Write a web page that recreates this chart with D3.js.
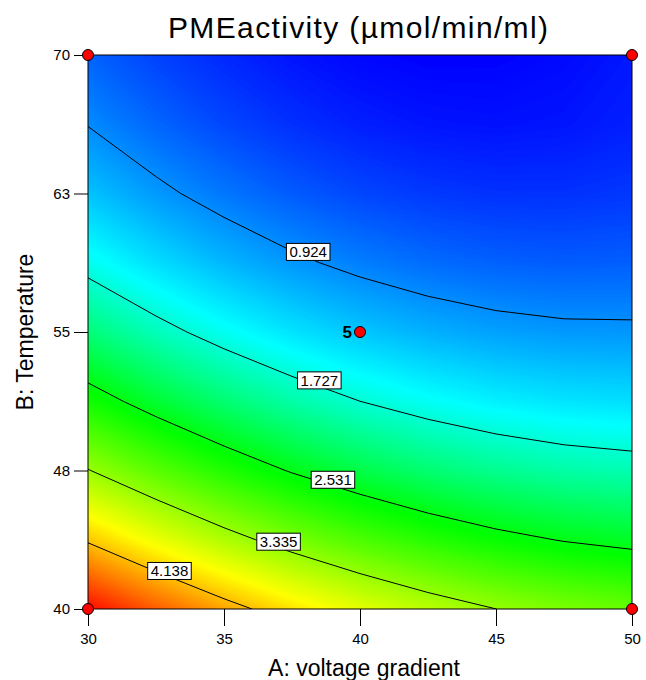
<!DOCTYPE html>
<html>
<head>
<meta charset="utf-8">
<script src="https://cdn.jsdelivr.net/npm/d3@7"></script>
<style>
body { margin: 0; background: #fff; }
text { font-family: "Liberation Sans", Arial, sans-serif; }
</style>
</head>
<body>
<svg width="646" height="680"></svg>
<script>
// values: columns = A (voltage gradient), rows = B (temperature, top to bottom)
var voltage = [30, 32.5, 35, 37.5, 40, 42.5, 45, 47.5, 50];
var temperature = [70, 66.25, 62.5, 58.75, 55, 51.25, 47.5, 43.75, 40];
var activity = [
    [0.693, 0.508, 0.361, 0.252, 0.180, 0.147, 0.151, 0.193, 0.273],
    [0.914, 0.707, 0.537, 0.406, 0.312, 0.257, 0.238, 0.259, 0.316],
    [1.223, 0.994, 0.802, 0.649, 0.533, 0.455, 0.415, 0.413, 0.448],
    [1.621, 1.370, 1.156, 0.980, 0.842, 0.742, 0.680, 0.655, 0.669],
    [2.108, 1.834, 1.598, 1.400, 1.240, 1.118, 1.033, 0.987, 0.978],
    [2.684, 2.388, 2.130, 1.910, 1.727, 1.583, 1.476, 1.407, 1.376],
    [3.348, 3.030, 2.750, 2.507, 2.303, 2.136, 2.007, 1.916, 1.863],
    [4.101, 3.761, 3.458, 3.194, 2.967, 2.778, 2.627, 2.514, 2.439],
    [4.943, 4.581, 4.256, 3.969, 3.720, 3.509, 3.336, 3.201, 3.103]
];
var levels = [0.924, 1.727, 2.531, 3.335, 4.138];
var labelAt = [38.1, 38.5, 39.0, 37.0, 33.0];
var xTicks = [30, 35, 40, 45, 50];
var yTicks = [40, 47.5, 55, 62.5, 70];
var yTickLabels = ["40", "48", "55", "63", "70"];
var designA = [30, 50, 30, 50, 40];
var designB = [40, 40, 70, 70, 55];
var designReps = [1, 1, 1, 1, 5];

var svg = d3.select("svg"),
    margin = {top: 55, right: 14, bottom: 71, left: 88},
    width = +svg.attr("width") - margin.left - margin.right,
    height = +svg.attr("height") - margin.top - margin.bottom;

var x = d3.scaleLinear().domain([30, 50]).range([margin.left, margin.left + width]);
var y = d3.scaleLinear().domain([40, 70]).range([margin.top + height, margin.top]);

var nx = voltage.length, ny = temperature.length;
var values = [].concat.apply([], activity);
var ext = d3.extent(values);
// blue - cyan - green - yellow - red ramp as it sits on the picture
var color = d3.scaleLinear()
    .domain([0.15, 1.55, 2.6, 3.85, 5.0])
    .range(["#0000ff", "#00ffff", "#00ff00", "#ffff00", "#ff0000"])
    .clamp(true);

// grid coordinate -> pixel (d3.contours puts value i at i + 0.5)
var dA = voltage[1] - voltage[0], dB = temperature[0] - temperature[1];
var path = d3.geoPath(d3.geoTransform({
    point: function(cx, cy) {
        this.stream.point(x(voltage[0] + dA * (cx - 0.5)), y(temperature[0] - dB * (cy - 0.5)));
    }
}));

svg.append("clipPath").attr("id", "plot")
    .append("rect")
    .attr("x", margin.left).attr("y", margin.top)
    .attr("width", width).attr("height", height);

var g = svg.append("g").attr("clip-path", "url(#plot)");

g.append("rect")
    .attr("x", margin.left).attr("y", margin.top)
    .attr("width", width).attr("height", height)
    .attr("fill", color(ext[0]));

var step = 0.02;
var bands = d3.range(ext[0] + step, ext[1], step);
g.selectAll(".band")
    .data(d3.contours().size([nx, ny]).thresholds(bands)(values))
    .enter().append("path")
    .attr("class", "band")
    .attr("d", path)
    .attr("fill", function(d) { return color(d.value + step / 2); })
    .attr("stroke", function(d) { return color(d.value + step / 2); })
    .attr("stroke-width", 0.6);

var lines = g.selectAll(".level")
    .data(d3.contours().size([nx, ny]).thresholds(levels)(values))
    .enter().append("path")
    .attr("class", "level")
    .attr("d", path)
    .attr("fill", "none")
    .attr("stroke", "#000")
    .attr("stroke-width", 1);

// labels sit just above the drawn line at the chosen A value
lines.each(function(d, i) {
    var node = this, len = node.getTotalLength(), tx = x(labelAt[i]), best = null;
    for (var s = 0; s <= len; s += 0.5) {
        var p = node.getPointAtLength(s);
        if (p.y < margin.top + 2 || p.y > margin.top + height - 2) continue;
        if (best == null || Math.abs(p.x - tx) < Math.abs(best.x - tx)) best = p;
    }
    var lab = svg.append("g").attr("transform", "translate(" + best.x + "," + (best.y - 6) + ")");
    var t = lab.append("text")
        .attr("text-anchor", "middle")
        .attr("dy", "0.36em")
        .attr("font-size", 15)
        .text(d3.format(".3f")(d.value));
    var w = t.node().getComputedTextLength() + 6;
    lab.insert("rect", "text")
        .attr("x", -w / 2).attr("y", -8.5)
        .attr("width", w).attr("height", 17)
        .attr("fill", "#fff").attr("stroke", "#000").attr("stroke-width", 1);
});

svg.append("rect")
    .attr("x", margin.left).attr("y", margin.top)
    .attr("width", width).attr("height", height)
    .attr("fill", "none").attr("stroke", "#000").attr("stroke-width", 1);

svg.append("g")
    .attr("transform", "translate(0," + (margin.top + height) + ")")
    .call(d3.axisBottom(x).tickValues(xTicks).tickSize(17).tickPadding(7))
    .call(function(a) { a.select(".domain").remove(); })
    .selectAll("text").attr("font-size", 15).attr("font-family", null).attr("fill", "#000");

svg.append("g")
    .attr("transform", "translate(" + margin.left + ",0)")
    .call(d3.axisLeft(y).tickValues(yTicks).tickSize(14).tickPadding(4)
        .tickFormat(function(d, i) { return yTickLabels[i]; }))
    .call(function(a) { a.select(".domain").remove(); })
    .selectAll("text").attr("font-size", 15).attr("font-family", null).attr("fill", "#000");

svg.selectAll(".design")
    .data(designA)
    .enter().append("circle")
    .attr("class", "design")
    .attr("cx", function(d) { return x(d); })
    .attr("cy", function(d, i) { return y(designB[i]); })
    .attr("r", 5.5)
    .attr("fill", "#ff0000").attr("stroke", "#000").attr("stroke-width", 1);

svg.selectAll(".reps")
    .data(designA.filter(function(d, i) { return designReps[i] > 1; }))
    .enter().append("text")
    .attr("class", "reps")
    .attr("x", function(d) { return x(d) - 8; })
    .attr("y", function(d) { return y(designB[designA.indexOf(d)]) + 6; })
    .attr("text-anchor", "end")
    .attr("font-size", 17).attr("font-weight", "bold")
    .text(function(d) { return designReps[designA.indexOf(d)]; });

svg.append("text")
    .attr("x", 358).attr("y", 38)
    .attr("text-anchor", "middle")
    .attr("font-size", 30)
    .attr("textLength", 380).attr("lengthAdjust", "spacing")
    .text("PMEactivity (µmol/min/ml)");

svg.append("text")
    .attr("x", 364).attr("y", 676)
    .attr("text-anchor", "middle")
    .attr("font-size", 23)
    .text("A: voltage gradient");

svg.append("text")
    .attr("transform", "translate(33," + y(55) + ") rotate(-90)")
    .attr("text-anchor", "middle")
    .attr("font-size", 23)
    .text("B: Temperature");
</script>
</body>
</html>
